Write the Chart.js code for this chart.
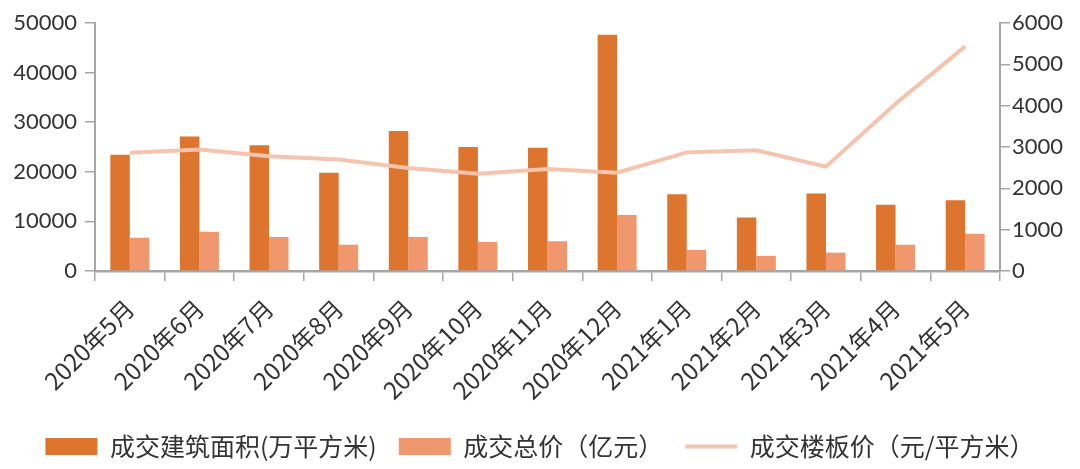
<!DOCTYPE html>
<html>
<head>
<meta charset="utf-8">
<script src="https://cdn.jsdelivr.net/npm/chart.js@4.4.1/dist/chart.umd.min.js"></script>
<style>
  html, body { margin: 0; padding: 0; background: #fff; }
  #wrap { width: 1080px; height: 469px; }
</style>
</head>
<body>
<div id="wrap"><canvas id="c" width="1080" height="469"></canvas></div>
<script>
// data
const months = ["2020年5月", "2020年6月", "2020年7月", "2020年8月", "2020年9月", "2020年10月", "2020年11月",
  "2020年12月", "2021年1月", "2021年2月", "2021年3月", "2021年4月", "2021年5月"];
const area = [23450, 27100, 25350, 19800, 28250, 25000, 24850, 47650, 15450, 10800, 15600, 13350, 14250];
const total = [6700, 7900, 6850, 5300, 6850, 5850, 6000, 11300, 4250, 3050, 3700, 5300, 7500];
const price = [2860, 2940, 2775, 2700, 2490, 2355, 2470, 2380, 2870, 2920, 2525, 4045, 5435];

const leftTicks = [0, 10000, 20000, 30000, 40000, 50000];
const rightTicks = [0, 1000, 2000, 3000, 4000, 5000, 6000];

const axisGrey = "#a6a6a6";
const tickFont = { family: "Lato, 'Noto Sans CJK SC'", size: 22 };
const plain = v => String(v); // no thousands separator

const ctx = document.getElementById("c");
new Chart(ctx, {
  type: "bar",
  data: {
    labels: months,
    datasets: [
      {
        label: "成交建筑面积(万平方米)",
        data: area,
        backgroundColor: "#de752e",
        yAxisID: "y",
        order: 1,
        pointStyle: "rect",
        categoryPercentage: 0.56,
        barPercentage: 1.0
      },
      {
        label: "成交总价（亿元）",
        data: total,
        backgroundColor: "#f0976e",
        yAxisID: "y",
        order: 1,
        pointStyle: "rect",
        categoryPercentage: 0.56,
        barPercentage: 1.0
      },
      {
        type: "line",
        label: "成交楼板价（元/平方米）",
        data: price,
        borderColor: "#f6c3ae",
        backgroundColor: "#f6c3ae",
        borderWidth: 4,
        pointRadius: 0,
        tension: 0,
        yAxisID: "y1",
        order: 0,
        pointStyle: "line"
      }
    ]
  },
  options: {
    responsive: false,
    animation: false,
    layout: { padding: { top: 23, left: 0, right: 0, bottom: 0 } },
    plugins: {
      tooltip: { enabled: false },
      legend: {
        position: "bottom",
        labels: {
          usePointStyle: true,
          pointStyleWidth: 52,
          boxHeight: 17,
          padding: 22,
          color: "#333",
          font: { family: "'Noto Sans CJK SC'", size: 25 },
          sort: (a, b) => a.datasetIndex - b.datasetIndex
        }
      }
    },
    scales: {
      x: {
        grid: { display: true, drawOnChartArea: false, drawTicks: true, tickLength: 10, color: axisGrey, lineWidth: 1.5, offset: true },
        border: { display: true, color: axisGrey, width: 2.5 },
        ticks: {
          color: "#333",
          font: { family: "'Noto Sans CJK SC'", size: 24 },
          maxRotation: 45,
          minRotation: 45,
          autoSkip: false,
          padding: 13
        },
        afterFit: s => { s.height = 141; }
      },
      y: {
        position: "left",
        min: 0,
        max: 50000,
        afterBuildTicks: s => { s.ticks = leftTicks.map(v => ({ value: v })); },
        grid: { display: true, drawOnChartArea: false, drawTicks: true, tickLength: 10, color: axisGrey, lineWidth: 1.5 },
        border: { display: true, color: axisGrey, width: 2 },
        ticks: { color: "#333", font: tickFont, padding: 8, callback: plain },
        afterFit: s => { s.width = 95; }
      },
      y1: {
        position: "right",
        min: 0,
        max: 6000,
        afterBuildTicks: s => { s.ticks = rightTicks.map(v => ({ value: v })); },
        grid: { display: true, drawOnChartArea: false, drawTicks: true, tickLength: 10, color: axisGrey, lineWidth: 1.5 },
        border: { display: true, color: axisGrey, width: 2 },
        ticks: { color: "#333", font: tickFont, padding: 2, callback: plain },
        afterFit: s => { s.width = 80; }
      }
    }
  }
});
</script>
</body>
</html>
